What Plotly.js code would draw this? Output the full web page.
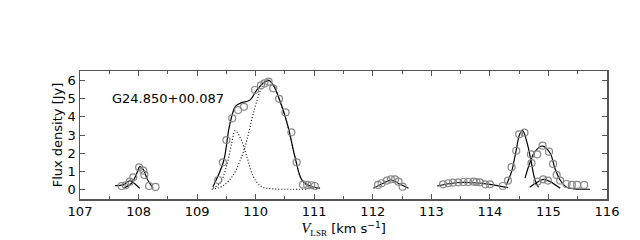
<!DOCTYPE html>
<html><head><meta charset="utf-8">
<script src="https://cdn.plot.ly/plotly-3.0.1.min.js"></script>
<style>html,body{margin:0;padding:0;background:#fff}</style>
</head><body><div id="chart" style="width:640px;height:240px"></div>
<script>
// Observed spectrum (open circles)
const obsV = [107.71,107.78,107.85,107.91,108.01,108.08,108.10,108.18,108.29,
  109.36,109.44,109.50,109.60,109.70,109.80,109.99,110.09,110.15,110.22,110.30,110.40,110.51,110.61,110.70,110.81,110.88,110.95,111.01,
  112.09,112.15,112.24,112.31,112.38,112.44,112.51,
  113.20,113.29,113.37,113.46,113.55,113.63,113.72,113.77,113.83,113.92,114.00,114.22,
  114.31,114.37,114.45,114.50,114.59,114.70,114.71,114.81,114.90,115.01,115.08,115.14,115.20,115.31,115.40,115.49,115.61,
  114.81,114.91,114.99];
const obsFlux = [0.18,0.22,0.42,0.66,1.21,1.03,0.79,0.18,0.13,
  0.51,1.49,2.72,3.92,4.38,4.56,5.49,5.75,5.85,5.95,5.58,5.00,4.25,3.15,1.49,0.25,0.24,0.22,0.18,
  0.24,0.33,0.48,0.55,0.55,0.42,0.14,
  0.27,0.33,0.37,0.38,0.40,0.40,0.42,0.40,0.38,0.27,0.27,0.18,
  0.48,1.22,2.13,3.04,3.13,1.93,1.44,1.93,2.41,2.08,1.40,0.79,0.48,0.29,0.24,0.24,0.24,
  0.42,0.55,0.48];

// Gaussian fits (solid)
const fitA_V = [107.60,107.74,107.85,107.94,108.02];
const fitA_F = [0.20,0.24,0.47,0.29,0.05];
const fitB_V = [107.74,107.88,107.97,108.02,108.08,108.15,108.25];
const fitB_F = [0.05,0.33,0.88,1.25,1.10,0.55,0.05];
const fitC_V = [109.27,109.45,109.55,109.65,109.73,109.90,110.04,110.21,110.30,110.44,110.56,110.67,110.79,110.93,111.10];
const fitC_F = [0.14,1.52,3.46,4.56,4.75,4.93,5.58,6.04,5.76,4.66,3.37,1.80,0.51,0.18,0.06];
const fitD_V = [112.01,112.18,112.32,112.46,112.61];
const fitD_F = [0.05,0.33,0.51,0.29,0.05];
const fitE_V = [113.10,113.43,113.72,114.00,114.31];
const fitE_F = [0.18,0.36,0.36,0.27,0.09];
const fitF_V = [114.28,114.37,114.45,114.51,114.56,114.63,114.70,114.77,114.83];
const fitF_F = [0.24,0.97,2.17,3.05,3.24,2.63,1.62,0.51,0.11];
const fitG_V = [114.60,114.68,114.77,114.90,115.03,115.11,115.20,115.31,115.45,115.71];
const fitG_F = [0.61,1.44,2.08,2.39,1.99,1.16,0.51,0.11,0.02,0.00];
const fitH_V = [114.68,114.80,114.91,115.03,115.20];
const fitH_F = [0.11,0.37,0.55,0.42,0.05];

// Components of the main feature (dotted)
const comp1_V = [109.27,109.39,109.50,109.59,109.65,109.73,109.85,109.96,110.10,110.30,110.60,110.90];
const comp1_F = [0.05,0.33,1.25,2.54,3.24,2.91,1.80,0.70,0.14,0.02,0.00,0.00];
const comp2_V = [109.25,109.45,109.62,109.76,109.85,109.96,110.10,110.21,110.30,110.44,110.56,110.67,110.79,110.93,111.05];
const comp2_F = [0.00,0.20,0.80,1.80,2.72,4.20,5.58,6.00,5.76,4.66,3.37,1.80,0.50,0.12,0.02];

const sourceName = 'G24.850+00.087';
const xTickVals = [107,108,109,110,111,112,113,114,115,116];
const yTickVals = [0,1,2,3,4,5,6];

const solid = {color:'#000', width:1.2, shape:'spline', smoothing:1};
const dotted = {color:'#000', width:1.1, dash:'1px,2px', shape:'spline', smoothing:1};
function line(x,y,l){return {x:x,y:y,mode:'lines',line:l,hoverinfo:'skip',showlegend:false,type:'scatter'};}

const traces = [
  line(comp1_V,comp1_F,dotted), line(comp2_V,comp2_F,dotted),
  line(fitA_V,fitA_F,solid), line(fitB_V,fitB_F,solid), line(fitC_V,fitC_F,solid),
  line(fitD_V,fitD_F,solid), line(fitE_V,fitE_F,solid), line(fitF_V,fitF_F,solid),
  line(fitG_V,fitG_F,solid), line(fitH_V,fitH_F,solid),
  {x:obsV,y:obsFlux,mode:'markers',type:'scatter',showlegend:false,
   marker:{symbol:'circle-open',size:7,color:'#888',line:{width:1.2,color:'#888'}}}
];

const axCommon = {
  showgrid:false, zeroline:false, showline:true, linecolor:'#555', linewidth:1.5,
  mirror:'allticks', ticks:'inside', ticklen:5, tickwidth:1, tickcolor:'#555',
  tickfont:{family:'DejaVu Sans', size:13, color:'#000'}
};

const layout = {
  width:640, height:240,
  margin:{l:80, r:33, t:71, b:41},
  paper_bgcolor:'#fff', plot_bgcolor:'#fff',
  font:{family:'DejaVu Sans', size:13, color:'#000'},
  xaxis:Object.assign({}, axCommon, {
    range:[107,116], tickvals:xTickVals, ticktext:xTickVals.map(String),
    minor:{ticks:'inside', dtick:0.5, tick0:107, ticklen:3, tickcolor:'#555', showgrid:false},
    title:{text:"<i><span style=\"font-family:'Liberation Serif';font-size:15px\">V</span></i><sub><span style=\"font-family:'Liberation Serif'\">LSR</span></sub> [km s<sup>−1</sup>]",
      font:{family:'DejaVu Sans', size:13}, standoff:6}
  }),
  yaxis:Object.assign({}, axCommon, {
    range:[-0.54,6.54], tickvals:yTickVals, ticktext:yTickVals.map(String),
    title:{text:'Flux density [Jy]', font:{family:'DejaVu Sans', size:13}, standoff:2}
  }),
  annotations:[{x:107.51, y:5.04, xref:'x', yref:'y', text:sourceName, showarrow:false,
    xanchor:'left', yanchor:'middle', font:{family:'DejaVu Sans', size:13, color:'#000'}}]
};

Plotly.newPlot('chart', traces, layout, {staticPlot:true, displayModeBar:false});
</script></body></html>
